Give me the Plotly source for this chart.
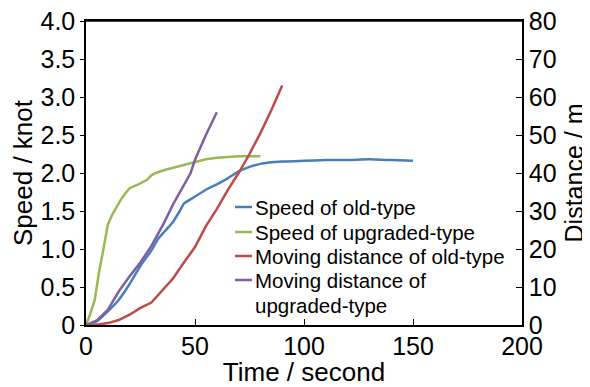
import plotly.graph_objects as go

# Speed of old-type (knot)
t_speed_old = [0, 5, 10, 15, 20, 25, 30, 33, 36, 40, 43, 45, 50, 55, 60, 65, 70, 75, 80, 90, 100, 110, 120, 130, 140, 150]
v_speed_old = [0, 0.05, 0.18, 0.33, 0.54, 0.78, 0.98, 1.13, 1.23, 1.36, 1.50, 1.60, 1.69, 1.78, 1.85, 1.93, 2.02, 2.08, 2.12, 2.15, 2.16, 2.17, 2.17, 2.18, 2.17, 2.16]

# Speed of upgraded-type (knot)
t_speed_up = [0, 2, 4, 6, 8, 10, 12, 14, 16, 18, 20, 24, 28, 30, 32, 36, 40, 45, 50, 55, 60, 65, 70, 80]
v_speed_up = [0, 0.15, 0.33, 0.70, 1.00, 1.32, 1.45, 1.55, 1.65, 1.73, 1.80, 1.85, 1.91, 1.97, 2.00, 2.04, 2.07, 2.11, 2.15, 2.18, 2.20, 2.21, 2.22, 2.22]

# Moving distance of old-type (m)
t_dist_old = [0, 5, 10, 15, 20, 25, 30, 35, 40, 45, 50, 55, 60, 65, 70, 75, 80, 85, 90]
d_dist_old = [0, 0.1, 0.5, 1.3, 2.7, 4.5, 5.9, 9.0, 12.3, 16.5, 20.5, 26.0, 30.5, 35.5, 40.0, 45.0, 50.5, 56.5, 63.0]

# Moving distance of upgraded-type (m)
t_dist_up = [0, 5, 10, 15, 20, 25, 30, 35, 40, 45, 48, 50, 55, 60]
d_dist_up = [0, 1.2, 4.0, 8.8, 12.8, 16.5, 20.8, 26.0, 31.8, 37.0, 40.0, 43.5, 50.0, 56.0]

series_names = ["Speed of old-type", "Speed of upgraded-type", "Moving distance of old-type",
                "Moving distance of<br>upgraded-type"]
series_colors = ["#4a7ebb", "#98b954", "#be4b48", "#7d60a0"]

speed_ticks = [0, 0.5, 1.0, 1.5, 2.0, 2.5, 3.0, 3.5, 4.0]
speed_labels = ["0", "0.5", "1.0", "1.5", "2.0", "2.5", "3.0", "3.5", "4.0"]
dist_ticks = [0, 10, 20, 30, 40, 50, 60, 70, 80]
time_ticks = [0, 50, 100, 150, 200]

FONT = "Liberation Sans, Arial, sans-serif"
OFF = 8  # page body margin
W, H = 590 - OFF, 387 - OFF
ML, MR, MT, MB = 86 - OFF, 68, 21 - OFF, 62
PW, PH = W - ML - MR, H - MT - MB

fig = go.Figure()
fig.add_trace(go.Scatter(x=t_speed_old, y=v_speed_old, mode="lines", name=series_names[0],
                         line=dict(color=series_colors[0], width=2.5, shape="spline", smoothing=0.4)))
fig.add_trace(go.Scatter(x=t_speed_up, y=v_speed_up, mode="lines", name=series_names[1],
                         line=dict(color=series_colors[1], width=2.5)))
fig.add_trace(go.Scatter(x=t_dist_old, y=d_dist_old, mode="lines", name=series_names[2],
                         line=dict(color=series_colors[2], width=2.5), yaxis="y2"))
fig.add_trace(go.Scatter(x=t_dist_up, y=d_dist_up, mode="lines", name=series_names[3],
                         line=dict(color=series_colors[3], width=2.5), yaxis="y2"))

# Legend drawn as paper-positioned text and short swatches (compact line spacing like the original)
def px_x(px):
    return (px - OFF - ML) / PW

def px_y(py):
    return (H - MB - (py - OFF)) / PH

leg_line_y = [207, 232, 256, 280]
annotations = []
shapes = []
for name, col, yy in zip(series_names, series_colors, leg_line_y):
    shapes.append(dict(type="line", xref="paper", yref="paper", x0=px_x(235), x1=px_x(252),
                       y0=px_y(yy), y1=px_y(yy), line=dict(color=col, width=2.5)))
    lines = name.split("<br>")
    for k, ln in enumerate(lines):
        annotations.append(dict(text=ln, xref="paper", yref="paper", x=px_x(253), y=px_y(yy + 25 * k),
                                xanchor="left", yanchor="middle", showarrow=False,
                                font=dict(size=20.5, family=FONT, color="black")))

# top border of the plot area
shapes.append(dict(type="line", xref="paper", yref="paper", x0=0, x1=1, y0=1, y1=1,
                   line=dict(color="black", width=1.5)))

fig.update_layout(
    width=W, height=H,
    margin=dict(l=ML, r=MR, t=MT, b=MB, autoexpand=False),
    paper_bgcolor="white", plot_bgcolor="white",
    font=dict(family=FONT, color="black", size=25),
    showlegend=False,
    annotations=annotations,
    shapes=shapes,
    xaxis=dict(range=[0, 200], tickvals=time_ticks, ticks="inside", ticklen=6, tickcolor="black",
               showline=True, linecolor="black", linewidth=1.5, mirror=True, showgrid=False, zeroline=False,
               automargin=False, ticklabelstandoff=-2, ticklabeloverflow="allow",
               title=dict(text="Time / second", font=dict(size=26), standoff=0),
               tickfont=dict(size=25)),
    yaxis=dict(range=[0, 4], tickvals=speed_ticks, ticktext=speed_labels, ticks="outside", ticklen=4,
               tickcolor="black", showline=True, linecolor="black", linewidth=1.5, showgrid=False, zeroline=False,
               automargin=False, ticklabeloverflow="allow",
               title=dict(text="Speed / knot", font=dict(size=26), standoff=0), tickfont=dict(size=25)),
    yaxis2=dict(range=[0, 80], tickvals=dist_ticks, overlaying="y", side="right", ticks="inside", ticklen=6,
                tickcolor="black", showline=True, linecolor="black", linewidth=1.5, showgrid=False, zeroline=False,
                automargin=False, ticklabeloverflow="allow",
                title=dict(text="Distance / m", font=dict(size=25), standoff=10), tickfont=dict(size=25)),
)

fig.write_html("out.html")
